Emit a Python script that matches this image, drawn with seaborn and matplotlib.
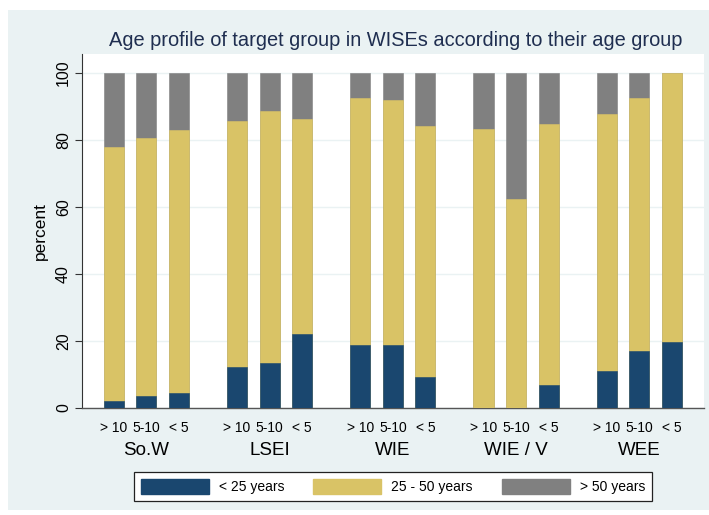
import matplotlib
matplotlib.use("Agg")
import matplotlib.pyplot as plt
from matplotlib.patches import Patch, Rectangle
import matplotlib.transforms as mtrans
import seaborn as sns
import numpy as np
import pandas as pd

# ---- data ----
groups = ["So.W", "LSEI", "WIE", "WIE / V", "WEE"]
sub_labels = ["> 10", "5-10", "< 5"]
series_names = ["< 25 years", "25 - 50 years", "> 50 years"]
under25 = [2.1, 3.5, 4.6, 12.1, 13.4, 22.1, 18.9, 18.7, 9.3, 0.0, 0.0, 6.8, 11.1, 17.0, 19.8]
age25_50 = [75.9, 77.0, 78.3, 73.5, 75.2, 64.0, 73.7, 73.1, 74.8, 83.2, 62.3, 78.0, 76.6, 75.4, 80.2]
over50 = [22.0, 19.5, 17.1, 14.4, 11.4, 13.9, 7.4, 8.2, 15.9, 16.8, 37.7, 15.2, 12.3, 7.6, 0.0]
title = "Age profile of target group in WISEs according to their age group"
ylabel = "percent"
yticks = [0, 20, 40, 60, 80, 100]

colors = ["#1A476F", "#D9C366", "#808080"]
bg = "#EAF2F3"

plt.rcParams["font.family"] = ["Liberation Sans", "DejaVu Sans"]

# positions
group_step = 3.79
pos = []
grp = []
sub = []
for g, gname in enumerate(groups):
    for j, s in enumerate(sub_labels):
        pos.append(round(g * group_step + j, 3))
        grp.append(gname)
        sub.append(s)

df = pd.DataFrame({"pos": pos, "group": grp, "sub": sub,
                   "u25": under25, "mid": age25_50, "o50": over50})
df["c1"] = df["u25"]
df["c2"] = df["u25"] + df["mid"]
df["c3"] = df["c2"] + df["o50"]

fig = plt.figure(figsize=(7.09, 5.15), dpi=100, facecolor="white")
bgrect = Rectangle((8 / 709, 1 - 510 / 515), 701 / 709, 500 / 515,
                   transform=fig.transFigure, facecolor=bg,
                   edgecolor="none", zorder=-10)
fig.patches.append(bgrect)

ax = fig.add_axes([82 / 709, 1 - 408 / 515, 622 / 709, 354 / 515])
ax.set_zorder(1)
ax.set_facecolor("white")

for col, c in zip(["c3", "c2", "c1"], [colors[2], colors[1], colors[0]]):
    sns.barplot(data=df, x="pos", y=col, native_scale=True, width=0.62,
                color=c, saturation=1, errorbar=None, ax=ax,
                edgecolor=c, linewidth=0.4, zorder=3)

ax.set_xlim(-0.98, 17.2 + 0.95)
ax.set_ylim(0, 105.6)
ax.set_yticks(yticks)
ax.set_yticklabels([str(v) for v in yticks], rotation=90, va="center", fontsize=11.5)
ax.tick_params(axis="y", length=5, width=0.8, color="#333333", pad=3)
ax.yaxis.grid(True, color=bg, linewidth=1.0, zorder=0)
ax.set_axisbelow(True)

ax.set_xticks(df["pos"])
ax.set_xticklabels(df["sub"], fontsize=10)
ax.tick_params(axis="x", length=0, pad=9)

ax.set_xlabel("")
ax.set_ylabel(ylabel, fontsize=12.5, labelpad=6)

for s in ["top", "right"]:
    ax.spines[s].set_visible(False)
ax.spines["left"].set_color("#333333")
ax.spines["left"].set_linewidth(0.8)
ax.spines["bottom"].set_color("#555555")
ax.spines["bottom"].set_linewidth(1.0)

trans = mtrans.blended_transform_factory(ax.transData, ax.transAxes)
for g, gname in enumerate(groups):
    ax.text(g * group_step + 1, -0.119, gname, transform=trans,
            ha="center", va="center", fontsize=13.5)

fig.text(396 / 709, 1 - 41 / 515, title, ha="center", va="center",
         fontsize=14.4, color="#1F2E50")

handles = [Patch(facecolor=c, edgecolor=c) for c in colors]
leg = fig.legend(handles, series_names, loc="center",
                 bbox_to_anchor=(393 / 709, 1 - 486.5 / 515), ncol=3,
                 fontsize=10, frameon=True, fancybox=False, framealpha=1,
                 handlelength=4.9, handleheight=1.35, handletextpad=0.7,
                 columnspacing=2.1, borderpad=0.5, borderaxespad=0)
leg.get_frame().set_edgecolor("#222222")
leg.get_frame().set_linewidth(0.9)
leg.get_frame().set_facecolor("white")

fig.savefig("out.png", dpi=100, facecolor="white")
